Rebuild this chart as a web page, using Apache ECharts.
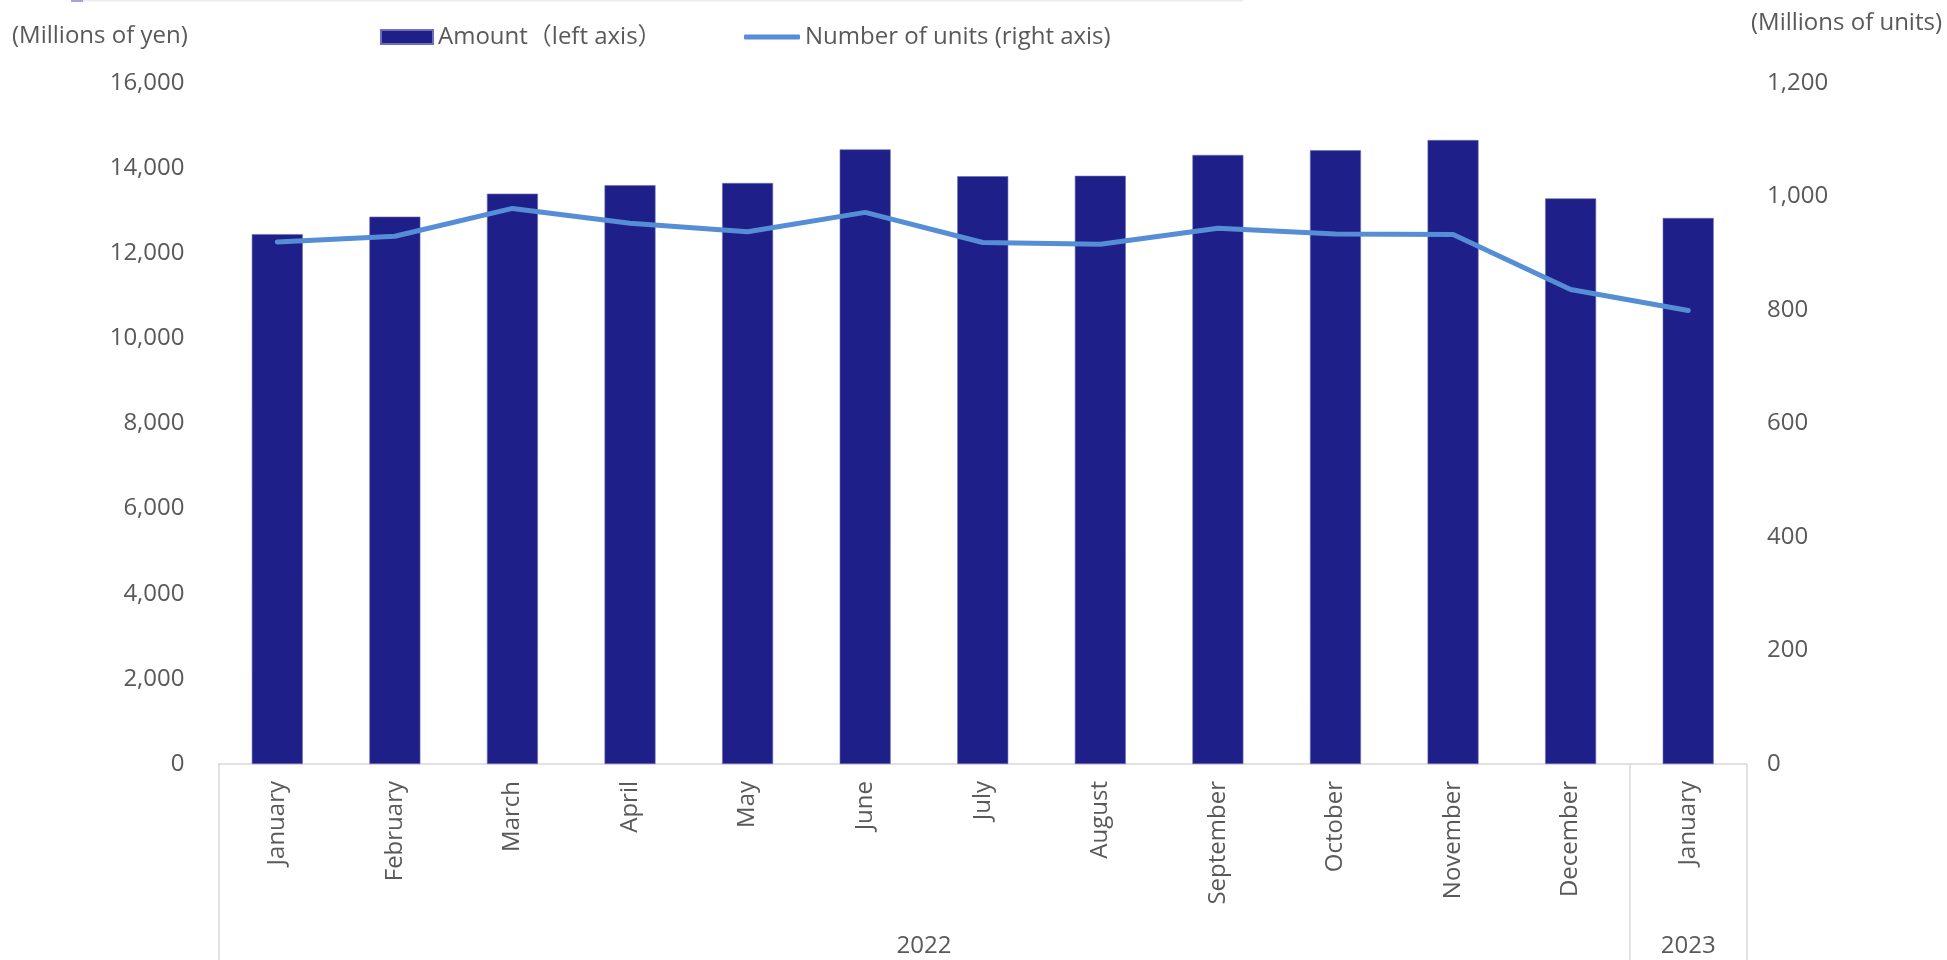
<!DOCTYPE html>
<html>
<head>
<meta charset="utf-8">
<script src="https://cdn.jsdelivr.net/npm/echarts@6/dist/echarts.min.js"></script>
<style>
html,body{margin:0;padding:0;background:#fff;}
#chart{width:1947px;height:960px;}
</style>
</head>
<body>
<div id="chart"></div>
<script>
const months = ['January','February','March','April','May','June','July','August','September','October','November','December','January'];
const years = ['2022','2023'];
const yearSpans = [12, 1];
const amount = [12450, 12860, 13400, 13600, 13650, 14440, 13810, 13820, 14310, 14420, 14660, 13290, 12830];
const units = [920, 930, 979, 953, 938, 972, 919, 916, 944, 934, 933, 836, 799];
const leftTicks = {min: 0, max: 16000, interval: 2000};
const rightTicks = {min: 0, max: 1200, interval: 200};
const leftUnit = '(Millions of yen)';
const rightUnit = '(Millions of units)';
const barName = 'Amount（left axis）';
const lineName = 'Number of units (right axis)';

const FONT = '"Open Sans", "Noto Sans", "Noto Sans CJK JP", sans-serif';
const TXT = '#595959';
const GRID_LINE = '#d9d9d9';

const yearCenters = [];
let acc = 0;
yearSpans.forEach((s, i) => { yearCenters.push({v: acc + s / 2, label: years[i]}); acc += s; });
const boundaryIdx = [];
acc = 0;
yearSpans.forEach(s => { boundaryIdx.push(acc); acc += s; });

const fmt = v => v.toLocaleString('en-US');

const chart = echarts.init(document.getElementById('chart'), null, {renderer: 'canvas'});
chart.setOption({
  backgroundColor: '#fff',
  animation: false,
  textStyle: {fontFamily: FONT},
  title: [
    {text: leftUnit, left: 12, top: 19, padding: 0,
     textStyle: {fontFamily: FONT, fontSize: 24, fontWeight: 'normal', color: TXT, lineHeight: 34}},
    {text: rightUnit, right: 5, top: 6, padding: 0,
     textStyle: {fontFamily: FONT, fontSize: 24, fontWeight: 'normal', color: TXT, lineHeight: 34}}
  ],
  legend: [
    {data: [{name: barName, icon: 'rect'}], left: 380, top: 22, padding: 0,
     itemWidth: 52, itemHeight: 14,
     textStyle: {fontFamily: FONT, fontSize: 24, color: TXT, lineHeight: 30}},
    {data: [{name: lineName, icon: 'roundRect'}], left: 744, top: 22, padding: 0,
     itemWidth: 56, itemHeight: 5,
     textStyle: {fontFamily: FONT, fontSize: 24, color: TXT, lineHeight: 30}}
  ],
  grid: {left: 218.5, right: 200, top: 83, bottom: 196, containLabel: false},
  xAxis: [
    {
      type: 'category', data: months, boundaryGap: true, position: 'bottom',
      axisLine: {show: true, lineStyle: {color: GRID_LINE, width: 1.5}},
      axisTick: {show: true, length: 196, interval: (i) => boundaryIdx.indexOf(i) !== -1,
                 lineStyle: {color: GRID_LINE, width: 1.5}},
      axisLabel: {rotate: 90, interval: 0, margin: 17, fontFamily: FONT, fontSize: 24, color: TXT},
      splitLine: {show: false}
    },
    {
      type: 'value', min: 0, max: months.length, interval: 0.5, position: 'bottom',
      axisLine: {show: false}, axisTick: {show: false}, splitLine: {show: false},
      axisLabel: {
        margin: 170, fontFamily: FONT, fontSize: 24, color: TXT,
        showMinLabel: true, showMaxLabel: true,
        formatter: (v) => { const y = yearCenters.find(c => Math.abs(c.v - v) < 1e-6); return y ? y.label : ''; }
      }
    }
  ],
  yAxis: [
    {
      type: 'value', min: leftTicks.min, max: leftTicks.max, interval: leftTicks.interval, position: 'left',
      axisLine: {show: false}, axisTick: {show: false}, splitLine: {show: false},
      axisLabel: {margin: 34, fontFamily: FONT, fontSize: 24, color: TXT, formatter: fmt}
    },
    {
      type: 'value', min: rightTicks.min, max: rightTicks.max, interval: rightTicks.interval, position: 'right',
      axisLine: {show: false}, axisTick: {show: false}, splitLine: {show: false},
      axisLabel: {margin: 20, fontFamily: FONT, fontSize: 24, color: TXT, formatter: fmt}
    }
  ],
  series: [
    {
      name: barName, type: 'bar', data: amount, xAxisIndex: 0, yAxisIndex: 0,
      barWidth: 51,
      itemStyle: {color: '#1e1f88', borderColor: '#6e6fb5', borderWidth: 0.6}
    },
    {
      name: lineName, type: 'line', data: units, xAxisIndex: 0, yAxisIndex: 1,
      symbol: 'none', smooth: false,
      lineStyle: {color: '#558ed5', width: 5, cap: 'round', join: 'round'},
      itemStyle: {color: '#558ed5'}
    }
  ],
  graphic: [
    {type: 'rect', shape: {x: 83, y: 0, width: 1160, height: 1.5}, style: {fill: '#ececec'}, silent: true},
    {type: 'rect', shape: {x: 71, y: 0, width: 12, height: 2}, style: {fill: '#a9a3d8'}, silent: true}
  ]
});
</script>
</body>
</html>
